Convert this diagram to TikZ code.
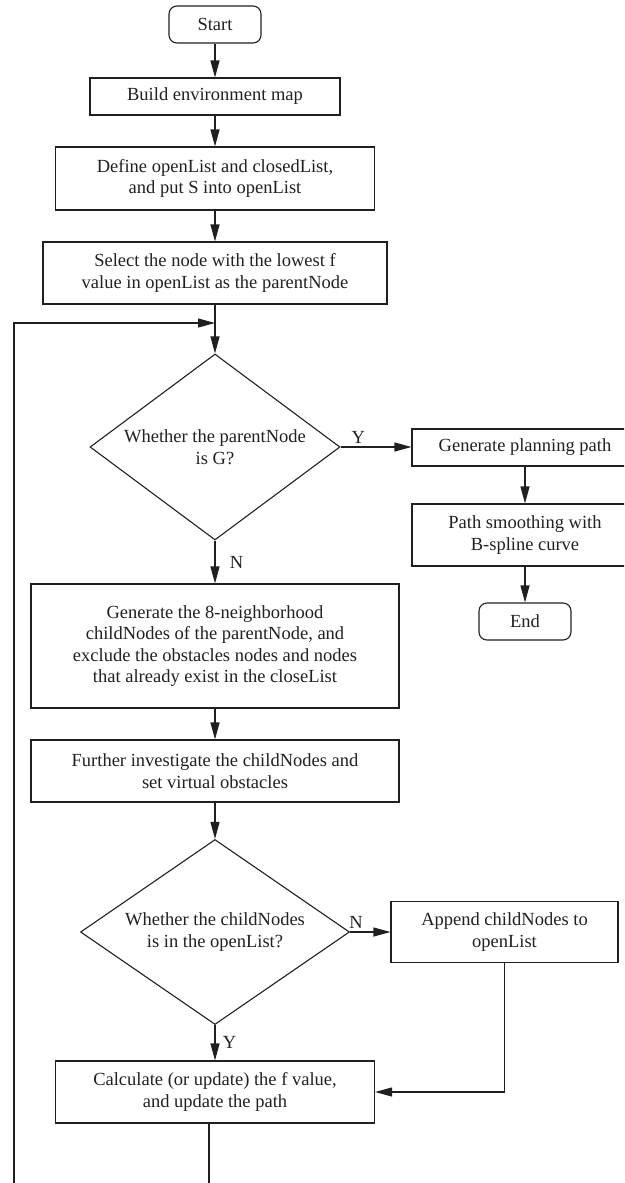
\documentclass[tikz,border=0pt]{standalone}
\usepackage{fontspec}
\setmainfont{Liberation Serif}
\usetikzlibrary{shapes.geometric,arrows.meta}
\definecolor{ink}{RGB}{35,31,32}
\begin{document}
\begin{tikzpicture}[x=1pt,y=-1pt,line width=1.1pt,draw=ink,text=ink,
                    font=\fontsize{18.5}{21.6}\selectfont]
    \tikzstyle{box}=[rectangle,draw=ink,align=center,inner sep=0pt]
    \tikzstyle{term}=[box,rounded corners=8pt,minimum width=92pt,minimum height=37pt]
    \tikzstyle{decision}=[diamond,draw=ink,align=center,inner sep=0pt,aspect=1.35]
    \tikzstyle{arr}=[draw=ink,-{Triangle[length=17pt,width=9pt]}]
    \useasboundingbox (0,0) rectangle (624,1183);
    \clip (0,0) rectangle (624,1183);

    \node[term] (start) at (215,24.5) {Start};
    \node[box,minimum width=250pt,minimum height=37pt] (build) at (215,96.5) {Build environment map};
    \node[box,minimum width=319pt,minimum height=63pt] (define) at (215,178.5)
        {Define openList and closedList,\\and put S into openList};
    \node[box,minimum width=344pt,minimum height=62pt] (select) at (215,273)
        {Select the node with the lowest f\\value in openList as the parentNode};
    \node[decision,minimum width=250pt,minimum height=186pt] (isgoal) at (215,447)
        {Whether the parentNode\\is G?};
    \node[box,minimum width=226pt,minimum height=37pt] (genpath) at (525,447.5) {Generate planning path};
    \node[box,minimum width=226pt,minimum height=62pt] (smooth) at (525,535)
        {Path smoothing with\\B-spline curve};
    \node[term] (end) at (525,621.5) {End};
    \node[box,minimum width=368pt,minimum height=124pt] (expand) at (215,646)
        {Generate the 8-neighborhood\\childNodes of the parentNode, and\\exclude the obstacles nodes and nodes\\that already exist in the closeList};
    \node[box,minimum width=368pt,minimum height=62pt] (virtual) at (215,771)
        {Further investigate the childNodes and\\set virtual obstacles};
    \node[decision,minimum width=269pt,minimum height=185pt] (inopen) at (215,932)
        {Whether the childNodes\\is in the openList?};
    \node[box,minimum width=227pt,minimum height=61pt] (append) at (504.5,932)
        {Append childNodes to\\openList};
    \node[box,minimum width=319pt,minimum height=62pt] (update) at (215,1092)
        {Calculate (or update) the f value,\\and update the path};

    \coordinate (loopin) at (215,323);
    \coordinate (loopbot) at (14,1183);
    \coordinate (updbot) at (209,1183);

    \draw[arr] (start) -- (build);
    \draw[arr] (build) -- (define);
    \draw[arr] (define) -- (select);
    \draw[arr] (select) -- (isgoal);
    \draw[arr] (loopbot) |- (loopin);
    \draw[arr] (isgoal.east) -- node[pos=0.25,above] {Y} (isgoal.east -| genpath.west);
    \draw[arr] (genpath) -- (smooth);
    \draw[arr] (smooth) -- (end);
    \draw[arr] (isgoal) -- node[right,xshift=11pt] {N} (expand);
    \draw[arr] (expand) -- (virtual);
    \draw[arr] (virtual) -- (inopen);
    \draw[arr] (inopen) -- node[pos=0.15,above] {N} (append);
    \draw[arr] (inopen) -- node[right,xshift=4pt] {Y} (update);
    \draw[arr] (append.south) |- (update.east);
    \draw (update.south -| updbot) -- (updbot);

\end{tikzpicture}
\end{document}
